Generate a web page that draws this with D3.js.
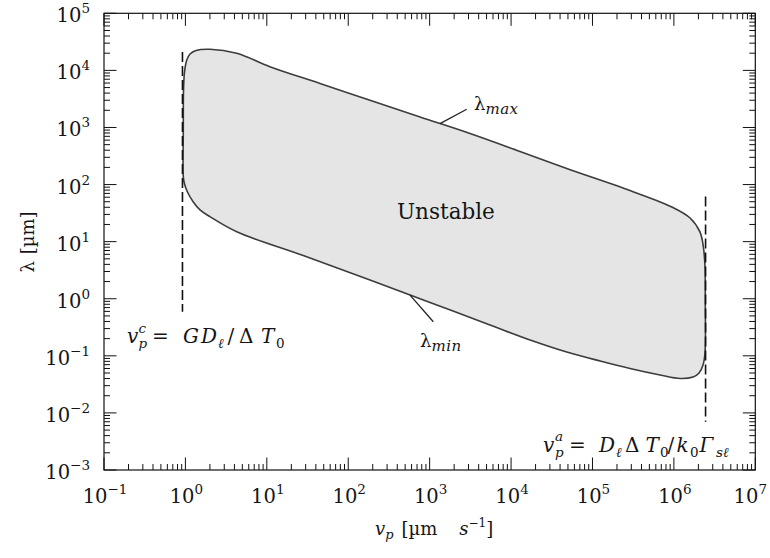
<!DOCTYPE html>
<html><head><meta charset="utf-8">
<script src="https://cdn.jsdelivr.net/npm/d3@7"></script>
<style>
body{margin:0;background:#fff}
svg{display:block}
text{font-family:"DejaVu Serif","Liberation Serif",serif;fill:#151515}
</style>
</head><body>
<svg id="c" width="770" height="558"></svg>
<script>
// ---- data ----
const xDomain = [0.1, 1e7];
const yDomain = [1e-3, 1e5];
const xTickExps = [-1, 0, 1, 2, 3, 4, 5, 6, 7];
const yTickExps = [-3, -2, -1, 0, 1, 2, 3, 4, 5];

// lambda_max branch: left edge -> top -> right edge
const vMax      = [0.942, 0.942, 0.948, 0.975, 1.04, 1.14, 1.35, 2.0, 4.27, 10.9, 45, 185, 762, 3133, 12880, 48300, 315000, 975000, 1.58e6, 2.09e6, 2.30e6, 2.41e6, 2.43e6];
const lambdaMax = [137, 904, 4540, 9380, 15200, 19400, 22300, 23400, 19900, 11600, 5890, 2994, 1526, 784, 380, 191, 75, 39.6, 26, 14.8, 8.16, 3.64, 0.95];
// lambda_min branch: left -> right
const vMin      = [0.975, 1.06, 1.25, 1.51, 2.0, 4.27, 28, 185, 1010, 5513, 18600, 48300, 124000, 289000, 676000, 1.19e6, 1.72e6, 2.04e6, 2.28e6, 2.41e6];
const lambdaMin = [102, 74, 49.5, 35.9, 27.4, 14.9, 5.72, 2.13, 0.86, 0.347, 0.182, 0.1167, 0.0812, 0.060, 0.0462, 0.0401, 0.0426, 0.050, 0.0692, 0.112];

// critical velocities (dashed lines) and their extents
const vCritical = [0.92, 2.45e6];
const dashTop = [2.1e4, 62];
const dashBottom = [0.59, 0.0070];

// leader anchors for the curve labels
const labelNames = ["max", "min"];
const labelAnchorV = [1340, 574];
const labelAnchorL = [1170, 1.16];

// ---- layout ----
const svg = d3.select("#c");
const X0 = 104, X1 = 755.3, Y0 = 470, Y1 = 13.3;
const x = d3.scaleLog().domain(xDomain).range([X0, X1]);
const y = d3.scaleLog().domain(yDomain).range([Y0, Y1]);

// ---- region ----
const upper = vMax.map((v, i) => [x(v), y(lambdaMax[i])]);
const lower = vMin.map((v, i) => [x(v), y(lambdaMin[i])]).reverse();
const pts = upper.concat(lower);
svg.append("path")
  .attr("d", d3.line().curve(d3.curveCatmullRomClosed.alpha(0.5))(pts))
  .attr("fill", "#e5e5e5")
  .attr("stroke", "#3c3c3c")
  .attr("stroke-width", 1.6);

// ---- dashed lines ----
vCritical.forEach((v, i) => {
  svg.append("line")
    .attr("x1", x(v)).attr("x2", x(v))
    .attr("y1", y(dashTop[i])).attr("y2", y(dashBottom[i]))
    .attr("stroke", "#111").attr("stroke-width", 1.6)
    .attr("stroke-dasharray", "10,4");
});

// ---- frame + ticks ----
const g = svg.append("g").attr("stroke", "#111").attr("stroke-width", 1);
g.append("rect").attr("x", X0).attr("y", Y1).attr("width", X1 - X0).attr("height", Y0 - Y1)
  .attr("fill", "none").attr("stroke-width", 1.2);

function tickList(exps) {
  const out = [];
  for (let i = 0; i < exps.length; i++) {
    out.push({v: Math.pow(10, exps[i]), major: true});
    if (i < exps.length - 1) for (let k = 2; k <= 9; k++) out.push({v: k * Math.pow(10, exps[i]), major: false});
  }
  return out;
}
const MAJ = 12.5, MIN = 6;
tickList(xTickExps).forEach(t => {
  const px = x(t.v), L = t.major ? MAJ : MIN;
  g.append("line").attr("x1", px).attr("x2", px).attr("y1", Y0).attr("y2", Y0 - L);
  g.append("line").attr("x1", px).attr("x2", px).attr("y1", Y1).attr("y2", Y1 + L);
});
tickList(yTickExps).forEach(t => {
  const py = y(t.v), L = t.major ? MAJ : MIN;
  g.append("line").attr("x1", X0).attr("x2", X0 + L).attr("y1", py).attr("y2", py);
  g.append("line").attr("x1", X1).attr("x2", X1 - L).attr("y1", py).attr("y2", py);
});

function expStr(e) { return e < 0 ? "\u2212" + (-e) : String(e); }

// x tick labels
xTickExps.forEach(e => {
  const px = x(Math.pow(10, e)) + 1;
  const t = svg.append("text").attr("x", px).attr("y", Y0 + 33)
    .attr("text-anchor", "middle").attr("font-size", 19.5);
  t.append("tspan").text("10");
  t.append("tspan").attr("font-size", 13.5).attr("dy", -9).text(expStr(e));
  const bb = t.node().getBBox();
  const over = bb.x + bb.width - 767;
  if (over > 0) t.attr("x", px - over);
});
// y tick labels
yTickExps.forEach(e => {
  const t = svg.append("text").attr("x", 90).attr("y", y(Math.pow(10, e)) + 9)
    .attr("text-anchor", "end").attr("font-size", 19.5);
  t.append("tspan").text("10");
  t.append("tspan").attr("font-size", 13.5).attr("dy", -9).text(expStr(e));
});

// ---- axis titles ----
{
  const t = svg.append("text").attr("x", 375).attr("y", 535).attr("font-size", 18);
  t.append("tspan").attr("font-style", "italic").text("v");
  t.append("tspan").attr("font-style", "italic").attr("font-size", 13).attr("dy", 4).text("p");
  t.append("tspan").attr("dy", -4).attr("dx", 8).text("[\u00b5m");
  t.append("tspan").attr("font-style", "italic").attr("dx", 22).text("s");
  t.append("tspan").attr("font-size", 12).attr("dy", -8).text("\u22121");
  t.append("tspan").attr("dy", 8).text("]");
}
{
  const t = svg.append("text").attr("transform", "translate(34,242) rotate(-90)")
    .attr("text-anchor", "middle").attr("font-size", 18);
  t.append("tspan").text("\u03bb");
  t.append("tspan").attr("dx", 7).text("[\u00b5m]");
}

// ---- region label ----
svg.append("text").attr("x", 397).attr("y", 218.5).attr("font-size", 21.5)
  .text("Unstable");

// ---- curve labels with leaders ----
const leaderOff = [[26.7, -14.3], [23.3, 26.7]];
const labelPos = [[474, 110], [420, 347]];
labelNames.forEach((nm, i) => {
  const ax = x(labelAnchorV[i]), ay = y(labelAnchorL[i]);
  svg.append("line").attr("x1", ax).attr("y1", ay)
    .attr("x2", ax + leaderOff[i][0]).attr("y2", ay + leaderOff[i][1])
    .attr("stroke", "#222").attr("stroke-width", 1.3);
  const t = svg.append("text").attr("x", labelPos[i][0]).attr("y", labelPos[i][1]).attr("font-size", 18);
  t.append("tspan").text("\u03bb");
  t.append("tspan").attr("font-style", "italic").attr("font-size", 15).attr("dy", 3.5)
    .attr("letter-spacing", 0.5).text(nm);
});

// ---- critical velocity annotations ----
// glyph list: [text, x offset, baseline shift, size, italic]
function mathText(x0, y0, glyphs) {
  const t = svg.append("text").attr("x", x0).attr("y", y0);
  glyphs.forEach(gl => {
    t.append("tspan").attr("x", x0 + gl[1]).attr("y", y0 + gl[2])
      .attr("font-size", gl[3]).attr("font-style", gl[4] ? "italic" : "normal").text(gl[0]);
  });
}
mathText(127, 342.5, [
  ["v", 0, 0, 20, true], ["p", 11.5, 5, 13.5, true], ["c", 11.5, -10, 13.5, true],
  ["=", 25, 0, 20, false],
  ["G", 56, 0, 20, true], ["D", 74, 0, 20, true], ["\u2113", 91, 5, 13.5, true],
  ["/", 100.5, 0, 20, false], ["\u0394", 112, 0, 20, false], ["T", 134, 0, 20, true],
  ["0", 149, 5, 13.5, false]
]);
mathText(543, 451.7, [
  ["v", 0, 0, 20, true], ["p", 12, 5, 13.5, true], ["a", 12, -11, 13.5, true],
  ["=", 26, 0, 20, false],
  ["D", 56, 0, 20, true], ["\u2113", 73, 5, 13.5, true], ["\u0394", 82, 0, 20, false],
  ["T", 102.5, 0, 20, true], ["0", 117, 5, 13.5, false], ["/", 124.5, 0, 20, false],
  ["k", 133.5, 0, 20, true], ["0", 147, 5, 13.5, false], ["\u0393", 156.5, 0, 20, true],
  ["s\u2113", 173, 5, 13.5, true]
]);
</script>
</body></html>
